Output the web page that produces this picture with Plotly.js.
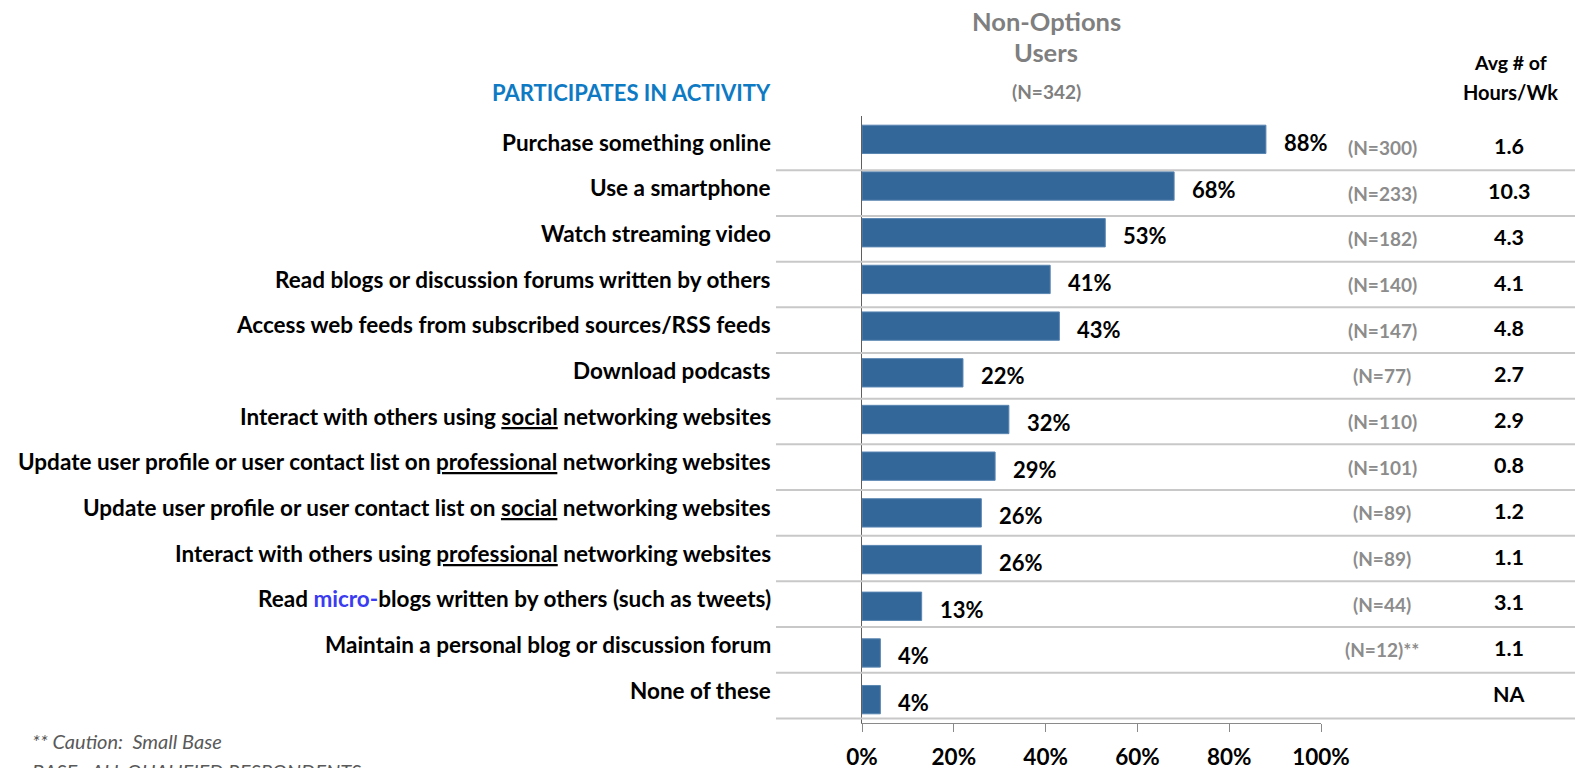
<!DOCTYPE html>
<html>
<head>
<meta charset="utf-8">
<script src="https://cdn.plot.ly/plotly-3.0.1.min.js"></script>
<style>html,body{margin:0;padding:0;background:#fff;}#chart{width:1575px;height:768px;}</style>
</head>
<body>
<div id="chart"></div>
<script>
// ---- data ----
const categories = [
  'Purchase something online',
  'Use a smartphone',
  'Watch streaming video',
  'Read blogs or discussion forums written by others',
  'Access web feeds from subscribed sources/RSS feeds',
  'Download podcasts',
  'Interact with others using social networking websites',
  'Update user profile or user contact list on professional networking websites',
  'Update user profile or user contact list on social networking websites',
  'Interact with others using professional networking websites',
  'Read micro-blogs written by others (such as tweets)',
  'Maintain a personal blog or discussion forum',
  'None of these'
];
const categoryLabels = [
  'Purchase something online',
  'Use a smartphone',
  'Watch streaming video',
  'Read blogs or discussion forums written by others',
  'Access web feeds from subscribed sources/RSS feeds',
  'Download podcasts',
  'Interact with others using <span style="text-decoration:underline">social</span> networking websites',
  'Update user profile or user contact list on <span style="text-decoration:underline">professional</span> networking websites',
  'Update user profile or user contact list on <span style="text-decoration:underline">social</span> networking websites',
  'Interact with others using <span style="text-decoration:underline">professional</span> networking websites',
  'Read <span style="color:#3b3bf0">micro-</span>blogs written by others (such as tweets)',
  'Maintain a personal blog or discussion forum',
  'None of these'
];
const participatesPct = [88, 68, 53, 41, 43, 22, 32, 29, 26, 26, 13, 4, 4];
const baseN = ['(N=300)', '(N=233)', '(N=182)', '(N=140)', '(N=147)', '(N=77)', '(N=110)', '(N=101)', '(N=89)', '(N=89)', '(N=44)', '(N=12)**', ''];
const avgHours = ['1.6', '10.3', '4.3', '4.1', '4.8', '2.7', '2.9', '0.8', '1.2', '1.1', '3.1', '1.1', 'NA'];
const xTicks = [0, 20, 40, 60, 80, 100];
const xTickText = ['0%', '20%', '40%', '60%', '80%', '100%'];

// ---- geometry / style ----
const W = 1575, H = 768;
const FONT = 'Lato, Carlito, "Open Sans", sans-serif';
const plotTop = 116, plotBottom = 723;
const plotH = plotBottom - plotTop;
const rowPitch = 45.67, firstRowCenter = 147.5;   // table rows
const tableRange = [(plotBottom - firstRowCenter) / rowPitch, (plotTop - firstRowCenter) / rowPitch];
const py = p => (plotBottom - p) / plotH;   // pixel y -> paper y
const px = p => p / W;

// separator lines of the table (between rows)
const sepX = [], sepY = [];
categories.forEach((c, i) => { sepX.push(776, W, null); sepY.push(i + 0.5, i + 0.5, null); });

const traces = [
  {
    type: 'bar', orientation: 'h', x: participatesPct, y: categories,
    xaxis: 'x', yaxis: 'y', width: 0.607,
    marker: {color: '#336699', line: {color: '#5a86b2', width: 1}},
    hoverinfo: 'skip', showlegend: false
  },
  {
    type: 'scatter', mode: 'lines', x: sepX, y: sepY, xaxis: 'x2', yaxis: 'y2',
    line: {color: '#c8c8c8', width: 2}, hoverinfo: 'skip', showlegend: false
  }
];

const ann = [];
categories.forEach((c, i) => {
  ann.push({xref: 'x2', yref: 'y2', x: 773, y: i, text: categoryLabels[i], xanchor: 'right', yanchor: 'middle',
    yshift: 5.5, showarrow: false, font: {family: FONT, size: 22.5, weight: 700, color: '#000'}});
  ann.push({xref: 'x', yref: 'y', x: participatesPct[i], y: c, text: participatesPct[i] + '%', xanchor: 'left', yanchor: 'middle',
    xshift: 16, yshift: -3, showarrow: false, font: {family: FONT, size: 22, weight: 700, color: '#000'}});
  if (baseN[i]) ann.push({xref: 'x2', yref: 'y2', x: 1382, y: i, text: baseN[i], xanchor: 'center', yanchor: 'middle',
    yshift: 0, showarrow: false, font: {family: FONT, size: 19, weight: 700, color: '#8c8c8c'}});
  ann.push({xref: 'x2', yref: 'y2', x: 1509, y: i, text: avgHours[i], xanchor: 'center', yanchor: 'middle',
    yshift: 2, showarrow: false, font: {family: FONT, size: 21.5, weight: 700, color: '#000'}});
});
// headers
ann.push({xref: 'paper', yref: 'paper', x: px(1046), y: py(21), text: 'Non-Options', xanchor: 'center', yanchor: 'middle', showarrow: false, font: {family: FONT, size: 25.5, weight: 700, color: '#7f7f7f'}});
ann.push({xref: 'paper', yref: 'paper', x: px(1046), y: py(52), text: 'Users', xanchor: 'center', yanchor: 'middle', showarrow: false, font: {family: FONT, size: 25.5, weight: 700, color: '#7f7f7f'}});
ann.push({xref: 'paper', yref: 'paper', x: px(1046), y: py(91), text: '(N=342)', xanchor: 'center', yanchor: 'middle', showarrow: false, font: {family: FONT, size: 19, weight: 700, color: '#7f7f7f'}});
ann.push({xref: 'paper', yref: 'paper', x: px(773), y: py(92), text: 'PARTICIPATES IN ACTIVITY', xanchor: 'right', yanchor: 'middle', showarrow: false, font: {family: FONT, size: 22, weight: 700, color: '#0e7ac4'}});
ann.push({xref: 'paper', yref: 'paper', x: px(1510), y: py(63), text: 'Avg # of', xanchor: 'center', yanchor: 'middle', showarrow: false, font: {family: FONT, size: 19.5, weight: 700, color: '#000'}});
ann.push({xref: 'paper', yref: 'paper', x: px(1510), y: py(92), text: 'Hours/Wk', xanchor: 'center', yanchor: 'middle', showarrow: false, font: {family: FONT, size: 20, weight: 700, color: '#000'}});
// footnotes
ann.push({xref: 'paper', yref: 'paper', x: px(30), y: py(741), text: '<i>** Caution:  Small Base</i>', xanchor: 'left', yanchor: 'middle', showarrow: false, font: {family: FONT, size: 20, color: '#595959'}});
ann.push({xref: 'paper', yref: 'paper', x: px(30), y: py(771), text: '<i>BASE:  ALL QUALIFIED RESPONDENTS</i>', xanchor: 'left', yanchor: 'middle', showarrow: false, font: {family: FONT, size: 20, color: '#595959'}});

const layout = {
  width: W, height: H,
  margin: {l: 0, r: 0, t: plotTop, b: H - plotBottom, pad: 0},
  paper_bgcolor: '#ffffff', plot_bgcolor: 'rgba(0,0,0,0)',
  showlegend: false,
  font: {family: FONT, color: '#000'},
  xaxis: {
    domain: [862 / W, 1321 / W], range: [0, 100], anchor: 'y',
    tickmode: 'array', tickvals: xTicks, ticktext: xTickText,
    showline: true, linecolor: '#8a8a8a', linewidth: 1,
    ticks: 'outside', ticklen: 8, tickcolor: '#8a8a8a', tickwidth: 1,
    showgrid: false, zeroline: false, ticklabelstandoff: 6,
    tickfont: {family: FONT, size: 22.5, weight: 700, color: '#000'}
  },
  yaxis: {
    domain: [0, 1], type: 'category', categoryorder: 'array', categoryarray: categories,
    range: [categories.length - 0.5, -0.5], anchor: 'x',
    showline: true, linecolor: '#5f5f5f', linewidth: 1,
    showticklabels: false, ticks: '', showgrid: false, zeroline: false
  },
  xaxis2: {domain: [0, 1], range: [0, W], anchor: 'y2', visible: false, showgrid: false, zeroline: false},
  yaxis2: {domain: [0, 1], range: tableRange, anchor: 'x2', visible: false, showgrid: false, zeroline: false},
  annotations: ann
};

Plotly.newPlot('chart', traces, layout, {displayModeBar: false, staticPlot: true});
</script>
</body>
</html>
